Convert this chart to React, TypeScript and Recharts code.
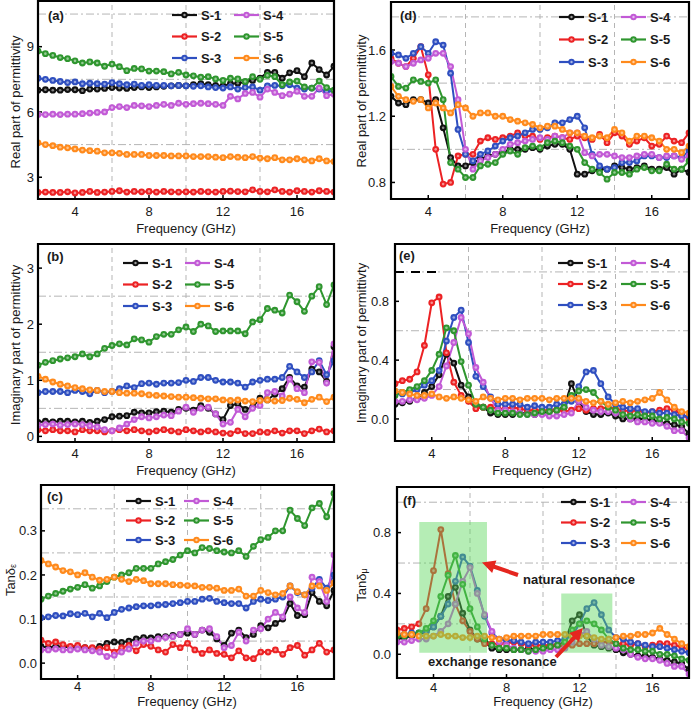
import React from "react";
import { LineChart, Line, XAxis, YAxis, ReferenceLine, ReferenceArea } from "recharts";

const FONT = '"Liberation Sans", Arial, Helvetica, sans-serif';

const FREQ = [2, 2.4, 2.8, 3.2, 3.6, 4, 4.4, 4.8, 5.2, 5.6, 6, 6.4, 6.8, 7.2, 7.6, 8, 8.4, 8.8, 9.2, 9.6, 10, 10.4, 10.8, 11.2, 11.6, 12, 12.4, 12.8, 13.2, 13.6, 14, 14.4, 14.8, 15.2, 15.6, 16, 16.4, 16.8, 17.2, 17.6, 18];
const SAMPLES = ["S-1", "S-2", "S-3", "S-4", "S-5", "S-6"];
const COLORS = ["#111111", "#ec2224", "#2f4fc0", "#c25ad6", "#2f962f", "#ff8a1c"];
const X_TICKS = [4, 8, 12, 16];
const X_GRID = [6, 10, 14];

// (a) real part of permittivity
const EPS_RE_S1 = [7.0, 7.02, 7.0, 7.0, 7.03, 7.02, 6.98, 7.05, 7.05, 7.08, 7.12, 7.1, 7.08, 7.12, 7.15, 7.12, 7.15, 7.18, 7.2, 7.22, 7.2, 7.25, 7.3, 7.25, 7.22, 7.2, 7.3, 7.32, 7.38, 7.45, 7.55, 7.82, 7.82, 7.55, 7.8, 7.9, 7.62, 8.25, 7.95, 7.7, 8.1];
const EPS_RE_S2 = [2.3, 2.32, 2.3, 2.3, 2.33, 2.28, 2.3, 2.35, 2.3, 2.32, 2.35, 2.38, 2.32, 2.35, 2.33, 2.35, 2.32, 2.35, 2.33, 2.32, 2.33, 2.32, 2.35, 2.33, 2.32, 2.35, 2.36, 2.34, 2.33, 2.42, 2.35, 2.33, 2.42, 2.35, 2.32, 2.38, 2.35, 2.32, 2.38, 2.35, 2.32];
const EPS_RE_S3 = [7.55, 7.5, 7.45, 7.4, 7.35, 7.38, 7.3, 7.32, 7.3, 7.28, 7.35, 7.3, 7.25, 7.28, 7.22, 7.25, 7.22, 7.22, 7.2, 7.22, 7.2, 7.18, 7.2, 7.15, 7.12, 7.1, 7.15, 7.05, 7.12, 7.15, 7.0, 7.2, 7.22, 7.2, 7.25, 7.1, 7.05, 7.1, 7.05, 6.95, 6.95];
const EPS_RE_S4 = [5.88, 5.88, 5.9, 5.88, 5.9, 5.9, 5.92, 5.95, 5.98, 6.0, 6.2, 6.25, 6.2, 6.3, 6.28, 6.25, 6.3, 6.35, 6.3, 6.4, 6.35, 6.38, 6.4, 6.38, 6.35, 6.3, 6.72, 6.6, 6.85, 6.9, 6.68, 7.05, 6.9, 6.75, 6.82, 6.95, 6.72, 6.72, 7.1, 6.75, 6.82];
const EPS_RE_S5 = [8.8, 8.68, 8.6, 8.5, 8.45, 8.35, 8.25, 8.3, 8.25, 8.1, 8.2, 8.08, 7.9, 8.0, 7.98, 7.88, 7.88, 7.85, 7.75, 7.82, 7.7, 7.66, 7.6, 7.62, 7.52, 7.45, 7.55, 7.52, 7.4, 7.62, 7.5, 7.68, 7.62, 7.25, 7.38, 7.42, 7.15, 7.1, 7.42, 7.12, 7.0];
const EPS_RE_S6 = [4.58, 4.5, 4.45, 4.38, 4.35, 4.3, 4.25, 4.22, 4.2, 4.12, 4.12, 4.1, 4.05, 4.05, 4.05, 4.0, 4.0, 4.0, 3.98, 3.98, 3.98, 3.95, 3.95, 3.95, 3.92, 3.9, 3.95, 3.92, 3.9, 3.95, 3.88, 3.85, 3.9, 3.8, 3.8, 3.85, 3.8, 3.75, 3.85, 3.75, 3.72];

// (b) imaginary part of permittivity
const EPS_IM_S1 = [0.25, 0.27, 0.26, 0.27, 0.27, 0.26, 0.27, 0.25, 0.27, 0.3, 0.35, 0.36, 0.37, 0.43, 0.42, 0.42, 0.44, 0.45, 0.43, 0.48, 0.5, 0.47, 0.55, 0.5, 0.4, 0.3, 0.55, 0.58, 0.48, 0.52, 0.68, 0.65, 0.75, 0.85, 1.05, 0.9, 0.88, 1.2, 1.15, 0.98, 1.6];
const EPS_IM_S2 = [0.12, 0.1, 0.12, 0.1, 0.1, 0.08, 0.12, 0.1, 0.1, 0.08, 0.1, 0.12, 0.1, 0.12, 0.1, 0.08, 0.1, 0.12, 0.1, 0.08, 0.12, 0.1, 0.08, 0.1, 0.08, 0.06, 0.05, 0.1, 0.05, 0.05, 0.08, 0.07, 0.1, 0.06, 0.1, 0.1, 0.05, 0.1, 0.13, 0.08, 0.1];
const EPS_IM_S3 = [0.78, 0.8, 0.8, 0.8, 0.78, 0.82, 0.8, 0.76, 0.82, 0.78, 0.8, 0.85, 0.9, 0.87, 0.94, 0.95, 0.93, 0.95, 0.95, 0.96, 1.0, 0.98, 1.05, 1.05, 1.0, 0.97, 0.97, 0.95, 0.88, 0.97, 1.0, 1.02, 1.02, 1.05, 1.25, 1.15, 1.05, 1.15, 1.35, 1.1, 1.35];
const EPS_IM_S4 = [0.2, 0.21, 0.22, 0.2, 0.21, 0.22, 0.21, 0.19, 0.17, 0.12, 0.1, 0.15, 0.22, 0.3, 0.35, 0.33, 0.35, 0.38, 0.37, 0.45, 0.52, 0.43, 0.5, 0.52, 0.4, 0.22, 0.25, 0.48, 0.35, 0.5, 0.55, 0.78, 0.8, 0.72, 1.02, 0.85, 0.78, 1.33, 1.32, 0.95, 1.65];
const EPS_IM_S5 = [1.27, 1.32, 1.35, 1.38, 1.4, 1.42, 1.47, 1.42, 1.47, 1.57, 1.62, 1.65, 1.63, 1.74, 1.72, 1.68, 1.78, 1.82, 1.82, 1.9, 1.95, 1.87, 2.0, 1.97, 1.87, 1.88, 1.88, 1.88, 1.83, 2.04, 2.08, 2.28, 2.25, 2.2, 2.52, 2.4, 2.23, 2.5, 2.67, 2.35, 2.7];
const EPS_IM_S6 = [1.07, 1.02, 0.97, 0.93, 0.9, 0.87, 0.85, 0.83, 0.82, 0.8, 0.8, 0.78, 0.77, 0.77, 0.76, 0.74, 0.73, 0.72, 0.71, 0.7, 0.7, 0.69, 0.68, 0.67, 0.67, 0.65, 0.64, 0.65, 0.63, 0.62, 0.64, 0.65, 0.63, 0.64, 0.68, 0.66, 0.6, 0.66, 0.7, 0.62, 0.7];

// (c) dielectric loss tangent
const TAN_E_S1 = [0.038, 0.035, 0.038, 0.037, 0.036, 0.037, 0.035, 0.033, 0.038, 0.045, 0.048, 0.047, 0.05, 0.055, 0.058, 0.057, 0.06, 0.06, 0.063, 0.065, 0.068, 0.065, 0.075, 0.07, 0.055, 0.04, 0.068, 0.075, 0.058, 0.065, 0.085, 0.08, 0.09, 0.1, 0.135, 0.108, 0.11, 0.16, 0.14, 0.13, 0.165];
const TAN_E_S2 = [0.052, 0.045, 0.048, 0.042, 0.038, 0.04, 0.035, 0.035, 0.032, 0.035, 0.025, 0.035, 0.04, 0.028, 0.042, 0.038, 0.03, 0.025, 0.042, 0.035, 0.045, 0.03, 0.022, 0.03, 0.022, 0.02, 0.012, 0.028, 0.012, 0.01, 0.025, 0.025, 0.03, 0.02, 0.035, 0.04, 0.018, 0.03, 0.045, 0.025, 0.03];
const TAN_E_S3 = [0.103, 0.105, 0.108, 0.107, 0.112, 0.11, 0.113, 0.105, 0.113, 0.103, 0.115, 0.122, 0.125, 0.128, 0.13, 0.13, 0.132, 0.133, 0.135, 0.137, 0.14, 0.14, 0.145, 0.147, 0.14, 0.137, 0.135, 0.135, 0.125, 0.14, 0.145, 0.142, 0.145, 0.15, 0.175, 0.16, 0.155, 0.17, 0.19, 0.17, 0.2];
const TAN_E_S4 = [0.03, 0.03, 0.032, 0.03, 0.03, 0.032, 0.03, 0.028, 0.025, 0.015, 0.018, 0.025, 0.032, 0.045, 0.05, 0.05, 0.055, 0.058, 0.06, 0.065, 0.078, 0.065, 0.075, 0.078, 0.06, 0.035, 0.04, 0.07, 0.05, 0.075, 0.078, 0.1, 0.115, 0.105, 0.15, 0.125, 0.115, 0.195, 0.185, 0.14, 0.245];
const TAN_E_S5 = [0.145, 0.152, 0.158, 0.163, 0.168, 0.172, 0.178, 0.17, 0.175, 0.185, 0.195, 0.2, 0.205, 0.215, 0.215, 0.215, 0.225, 0.23, 0.235, 0.245, 0.255, 0.25, 0.262, 0.26, 0.255, 0.252, 0.25, 0.255, 0.242, 0.265, 0.28, 0.285, 0.3, 0.3, 0.347, 0.328, 0.312, 0.352, 0.362, 0.332, 0.385];
const TAN_E_S6 = [0.233, 0.225, 0.218, 0.21, 0.207, 0.2, 0.205, 0.195, 0.188, 0.19, 0.195, 0.19, 0.185, 0.19, 0.187, 0.18, 0.18, 0.18, 0.178, 0.177, 0.176, 0.175, 0.172, 0.172, 0.17, 0.165, 0.165, 0.168, 0.152, 0.152, 0.165, 0.16, 0.155, 0.158, 0.175, 0.162, 0.155, 0.175, 0.175, 0.165, 0.182];

// (d) real part, permeability panel
const MU_RE_S1 = [1.32, 1.28, 1.27, 1.3, 1.3, 1.28, 1.3, 1.13, 0.95, 0.9, 0.9, 0.92, 0.94, 0.96, 0.97, 0.98, 1.0, 1.0, 1.0, 1.01, 1.0, 1.02, 1.03, 1.03, 1.0, 0.85, 0.85, 0.87, 0.88, 0.88, 0.9, 0.89, 0.88, 0.89, 0.9, 0.88, 0.88, 0.89, 0.85, 0.88, 0.86];
const MU_RE_S2 = [1.55, 1.52, 1.5, 1.55, 1.62, 1.45, 1.0, 0.79, 0.8, 0.96, 0.97, 0.97, 1.05, 1.07, 1.06, 1.07, 1.08, 1.1, 1.08, 1.08, 1.06, 1.07, 1.08, 1.07, 1.06, 1.08, 1.07, 1.06, 1.09, 1.04, 1.1, 1.08, 1.03, 1.05, 1.07, 1.02, 1.03, 1.08, 1.05, 1.04, 1.1];
const MU_RE_S3 = [1.58, 1.57, 1.55, 1.58, 1.62, 1.58, 1.65, 1.63, 1.46, 1.12, 0.97, 0.93, 0.97, 0.99, 1.02, 1.05, 1.07, 1.08, 1.1, 1.12, 1.12, 1.13, 1.16, 1.16, 1.18, 1.2, 1.13, 0.97, 0.9, 0.88, 0.89, 0.92, 0.92, 0.93, 0.96, 0.96, 0.95, 0.95, 0.96, 0.95, 0.99];
const MU_RE_S4 = [1.53, 1.52, 1.5, 1.52, 1.54, 1.55, 1.58, 1.58, 1.5, 1.3, 1.0, 0.88, 0.93, 0.95, 0.97, 1.0, 1.03, 1.04, 1.05, 1.06, 1.07, 1.06, 1.08, 1.07, 1.1, 1.1, 0.98, 0.96, 0.97, 0.97, 0.96, 0.95, 0.95, 0.96, 0.97, 0.97, 0.95, 0.96, 0.96, 0.94, 0.96];
const MU_RE_S5 = [1.44, 1.38, 1.37, 1.42, 1.41, 1.4, 1.42, 1.3, 0.92, 0.88, 0.83, 0.83, 0.9, 0.91, 0.92, 0.97, 0.99, 0.97, 1.01, 1.02, 1.01, 1.04, 1.05, 1.04, 1.02, 1.0, 0.92, 0.88, 0.86, 0.82, 0.86, 0.86, 0.85, 0.88, 0.89, 0.87, 0.87, 0.91, 0.88, 0.88, 0.93];
const MU_RE_S6 = [1.38, 1.32, 1.3, 1.29, 1.3, 1.25, 1.28, 1.25, 1.22, 1.27, 1.25, 1.2, 1.22, 1.22, 1.2, 1.2, 1.18, 1.17, 1.16, 1.15, 1.13, 1.14, 1.14, 1.12, 1.1, 1.1, 1.08, 1.07, 1.08, 1.07, 1.12, 1.1, 1.05, 1.08, 1.08, 1.07, 1.05, 1.0, 1.0, 0.98, 1.02];

// (e) imaginary part, permeability panel
const MU_IM_S1 = [0.1, 0.11, 0.12, 0.14, 0.18, 0.22, 0.3, 0.44, 0.38, 0.23, 0.15, 0.1, 0.08, 0.04, 0.03, 0.03, 0.03, 0.04, 0.04, 0.03, 0.04, 0.05, 0.06, 0.08, 0.24, 0.12, 0.05, 0.03, 0.03, 0.04, 0.02, 0.0, 0.0, 0.0, 0.0, -0.01, -0.02, -0.03, -0.04, -0.05, -0.1];
const MU_IM_S2 = [0.24, 0.26, 0.27, 0.32, 0.5, 0.79, 0.83, 0.45, 0.25, 0.16, 0.12, 0.07, 0.08, 0.08, 0.07, 0.07, 0.08, 0.07, 0.06, 0.06, 0.06, 0.06, 0.06, 0.05, 0.06, 0.07, 0.06, 0.07, 0.07, 0.08, 0.07, 0.06, 0.05, 0.06, 0.04, 0.05, 0.06, 0.07, 0.06, 0.03, 0.0];
const MU_IM_S3 = [0.17, 0.17, 0.18, 0.2, 0.23, 0.26, 0.33, 0.53, 0.69, 0.74, 0.52, 0.29, 0.22, 0.15, 0.1, 0.1, 0.1, 0.1, 0.08, 0.09, 0.08, 0.08, 0.1, 0.1, 0.12, 0.22, 0.32, 0.33, 0.24, 0.15, 0.1, 0.08, 0.07, 0.07, 0.05, 0.05, 0.04, 0.04, 0.03, 0.02, 0.02];
const MU_IM_S4 = [0.12, 0.12, 0.13, 0.13, 0.14, 0.16, 0.22, 0.36, 0.52, 0.69, 0.58, 0.35, 0.25, 0.14, 0.06, 0.06, 0.05, 0.04, 0.03, 0.03, 0.03, 0.02, 0.02, 0.03, 0.04, 0.12, 0.08, 0.06, 0.05, 0.05, 0.04, 0.03, 0.0, -0.02, -0.02, -0.03, -0.03, -0.05, -0.08, -0.08, -0.13];
const MU_IM_S5 = [0.16, 0.18, 0.2, 0.22, 0.26, 0.33, 0.44, 0.62, 0.6, 0.39, 0.23, 0.1, 0.08, 0.06, 0.04, 0.04, 0.04, 0.03, 0.03, 0.04, 0.05, 0.05, 0.06, 0.08, 0.16, 0.19, 0.2, 0.18, 0.12, 0.08, 0.06, 0.03, 0.02, 0.03, 0.02, 0.02, 0.0, 0.01, 0.0, -0.02, -0.03];
const MU_IM_S6 = [0.19, 0.18, 0.17, 0.16, 0.16, 0.17, 0.15, 0.14, 0.15, 0.14, 0.13, 0.12, 0.15, 0.14, 0.13, 0.14, 0.14, 0.13, 0.14, 0.14, 0.14, 0.13, 0.14, 0.14, 0.14, 0.14, 0.12, 0.11, 0.12, 0.1, 0.11, 0.12, 0.11, 0.12, 0.13, 0.14, 0.18, 0.13, 0.08, 0.05, 0.04];

// (f) magnetic loss tangent
const TAN_M_S1 = [0.1, 0.11, 0.12, 0.13, 0.15, 0.18, 0.25, 0.38, 0.44, 0.27, 0.16, 0.1, 0.08, 0.04, 0.03, 0.03, 0.03, 0.03, 0.04, 0.03, 0.04, 0.05, 0.06, 0.08, 0.22, 0.26, 0.12, 0.06, 0.05, 0.04, 0.03, 0.01, 0.0, -0.01, -0.01, -0.02, -0.03, -0.04, -0.05, -0.06, -0.1];
const TAN_M_S2 = [0.16, 0.17, 0.18, 0.2, 0.3, 0.55, 0.82, 0.53, 0.33, 0.22, 0.15, 0.1, 0.07, 0.07, 0.07, 0.07, 0.08, 0.07, 0.06, 0.06, 0.06, 0.06, 0.06, 0.05, 0.06, 0.07, 0.07, 0.07, 0.08, 0.08, 0.07, 0.07, 0.06, 0.07, 0.05, 0.06, 0.07, 0.07, 0.06, 0.05, 0.03];
const TAN_M_S3 = [0.13, 0.13, 0.14, 0.14, 0.15, 0.18, 0.25, 0.33, 0.48, 0.64, 0.58, 0.42, 0.25, 0.14, 0.1, 0.09, 0.09, 0.08, 0.07, 0.08, 0.08, 0.08, 0.09, 0.1, 0.12, 0.2, 0.3, 0.34, 0.26, 0.16, 0.11, 0.1, 0.08, 0.07, 0.06, 0.05, 0.05, 0.04, 0.03, 0.02, 0.01];
const TAN_M_S4 = [0.08, 0.08, 0.09, 0.1, 0.1, 0.12, 0.15, 0.2, 0.33, 0.48, 0.57, 0.4, 0.26, 0.15, 0.08, 0.06, 0.04, 0.03, 0.02, 0.02, 0.02, 0.03, 0.03, 0.04, 0.08, 0.13, 0.15, 0.1, 0.06, 0.05, 0.04, 0.03, 0.0, -0.02, -0.03, -0.03, -0.04, -0.06, -0.08, -0.08, -0.13];
const TAN_M_S5 = [0.12, 0.12, 0.13, 0.14, 0.17, 0.22, 0.38, 0.52, 0.65, 0.46, 0.3, 0.18, 0.1, 0.06, 0.04, 0.04, 0.03, 0.03, 0.02, 0.03, 0.04, 0.05, 0.06, 0.08, 0.16, 0.2, 0.22, 0.2, 0.16, 0.1, 0.07, 0.04, 0.03, 0.03, 0.02, 0.02, 0.0, 0.0, -0.01, -0.03, -0.04];
const TAN_M_S6 = [0.14, 0.13, 0.13, 0.12, 0.12, 0.12, 0.13, 0.12, 0.12, 0.11, 0.11, 0.12, 0.12, 0.11, 0.1, 0.11, 0.12, 0.12, 0.12, 0.12, 0.13, 0.13, 0.13, 0.13, 0.12, 0.12, 0.12, 0.11, 0.1, 0.1, 0.11, 0.12, 0.12, 0.13, 0.13, 0.14, 0.17, 0.13, 0.1, 0.07, 0.05];

type Box = [number, number, number, number];

interface PanelSpec {
  plot: Box;
  series: number[][];
  yDomain: [number, number];
  yTicks: number[];
  yGrid: number[];
  digits: number;
  xTickMargin: number;
  yTickMargin: number;
  areas?: { x1: number; x2: number; y1: number; y2: number }[];
  blackDash?: boolean;
}

const PANELS: PanelSpec[] = [
  { plot: [38, 1, 334, 199], series: [EPS_RE_S1, EPS_RE_S2, EPS_RE_S3, EPS_RE_S4, EPS_RE_S5, EPS_RE_S6], yDomain: [2, 11.1], yTicks: [3, 6, 9], yGrid: [4.5, 7.5, 10.5], digits: 0, xTickMargin: 12, yTickMargin: 8 },
  { plot: [38, 244, 334, 442], series: [EPS_IM_S1, EPS_IM_S2, EPS_IM_S3, EPS_IM_S4, EPS_IM_S5, EPS_IM_S6], yDomain: [-0.1, 3.43], yTicks: [0, 1, 2, 3], yGrid: [0.5, 1.5, 2.5], digits: 0, xTickMargin: 11, yTickMargin: 8 },
  { plot: [41, 485, 334, 679], series: [TAN_E_S1, TAN_E_S2, TAN_E_S3, TAN_E_S4, TAN_E_S5, TAN_E_S6], yDomain: [-0.036, 0.404], yTicks: [0, 0.1, 0.2, 0.3], yGrid: [0.05, 0.15, 0.25, 0.35], digits: 1, xTickMargin: 6.5, yTickMargin: 8 },
  { plot: [391, 2, 689, 199], series: [MU_RE_S1, MU_RE_S2, MU_RE_S3, MU_RE_S4, MU_RE_S5, MU_RE_S6], yDomain: [0.7, 1.89], yTicks: [0.8, 1.2, 1.6], yGrid: [1.0, 1.4, 1.8], digits: 1, xTickMargin: 11.5, yTickMargin: 9 },
  { plot: [395, 244, 689, 441], series: [MU_IM_S1, MU_IM_S2, MU_IM_S3, MU_IM_S4, MU_IM_S5, MU_IM_S6], yDomain: [-0.15, 1.19], yTicks: [0, 0.4, 0.8], yGrid: [0.2, 0.6, 1.0], digits: 1, xTickMargin: 12, yTickMargin: 10, blackDash: true },
  {
    plot: [397, 487, 689, 678], series: [TAN_M_S1, TAN_M_S2, TAN_M_S3, TAN_M_S4, TAN_M_S5, TAN_M_S6], yDomain: [-0.156, 1.1], yTicks: [0, 0.4, 0.8], yGrid: [0.2, 0.6, 1.0], digits: 1, xTickMargin: 8.5, yTickMargin: 10,
    areas: [
      { x1: 3.22, x2: 6.93, y1: 0.01, y2: 0.87 },
      { x1: 11.0, x2: 13.8, y1: 0.01, y2: 0.4 },
    ],
  },
];

// titles, legends and panel tags (page pixels)
const Y_TITLES = [
  { x: 15, y: 102, text: "Real part of permittivity" },
  { x: 15, y: 345, text: "Imaginary part of permittivty" },
  { x: 361, y: 101, text: "Real part of permittivity" },
  { x: 361, y: 343, text: "Imaginary part of permittivty" },
];
const X_TITLES = [
  { x: 186, y: 228 }, { x: 186, y: 470 }, { x: 187, y: 701 },
  { x: 540, y: 228 }, { x: 542, y: 470 }, { x: 543, y: 701 },
];
const TAGS = [
  { x: 48, y: 15, t: "(a)" }, { x: 47, y: 256, t: "(b)" }, { x: 47, y: 496, t: "(c)" },
  { x: 400, y: 15, t: "(d)" }, { x: 399, y: 255, t: "(e)" }, { x: 403, y: 500, t: "(f)" },
];
const LEGENDS = [
  { x: 172, y: 15, dy: 21.5, dx: 62 },
  { x: 123, y: 263, dy: 21.5, dx: 62 },
  { x: 126, y: 501, dy: 19.5, dx: 58 },
  { x: 559, y: 17, dy: 22.5, dx: 62 },
  { x: 558, y: 263, dy: 21, dx: 63 },
  { x: 561, y: 502, dy: 20.5, dx: 60 },
];

function makeDot(color: string) {
  return (p: any) => {
    if (p.cx == null || p.cy == null) return <g key={`n${p.index}`} />;
    return (
      <g key={`d${p.index}`}>
        <circle cx={p.cx} cy={p.cy} r={3.4} fill={color} />
        <circle cx={p.cx} cy={p.cy} r={1.3} fill="#ffffff" fillOpacity={0.5} />
      </g>
    );
  };
}

function Panel({ spec }: { spec: PanelSpec }) {
  const [x0, y0, x1, y1] = spec.plot;
  const padL = 46, padT = 8, padR = 8, padB = 30;
  const rows = FREQ.map((f, i) => {
    const r: Record<string, number> = { f };
    spec.series.forEach((s, k) => (r[`s${k + 1}`] = s[i]));
    return r;
  });
  const tickStyle = { fontSize: 13, fill: "#1a1a1a", fontFamily: FONT };
  return (
    <div style={{ position: "absolute", left: x0 - padL, top: y0 - padT }}>
      <LineChart
        width={x1 - x0 + padL + padR}
        height={y1 - y0 + padT + padB}
        data={rows}
        margin={{ top: padT, right: padR, bottom: 0, left: 0 }}
      >
        {X_GRID.map((v) => (
          <ReferenceLine key={`gx${v}`} x={v} stroke="#b5b5b5" strokeDasharray="5 4" strokeWidth={1} />
        ))}
        {spec.yGrid.map((v) => (
          <ReferenceLine key={`gy${v}`} y={v} stroke="#b5b5b5" strokeDasharray="8 3 2 3" strokeWidth={1} />
        ))}
        {spec.blackDash && (
          <ReferenceLine
            segment={[{ x: 2, y: 1.0 }, { x: 4.3, y: 1.0 }]}
            stroke="#000"
            strokeWidth={2}
            strokeDasharray="9 7"
          />
        )}
        <XAxis
          type="number"
          dataKey="f"
          domain={[2, 18]}
          ticks={X_TICKS}
          interval={0}
          allowDataOverflow
          height={padB}
          axisLine={false}
          tickLine={{ stroke: "#000", strokeWidth: 1.5 }}
          tickSize={-4}
          tickMargin={spec.xTickMargin}
          tick={tickStyle}
        />
        <YAxis
          type="number"
          domain={spec.yDomain}
          ticks={spec.yTicks}
          interval={0}
          allowDataOverflow
          width={padL}
          axisLine={false}
          tickLine={{ stroke: "#000", strokeWidth: 1.5 }}
          tickSize={-4}
          tickMargin={spec.yTickMargin}
          tick={tickStyle}
          tickFormatter={(v: number) => v.toFixed(spec.digits)}
        />
        {spec.series.map((_, k) => (
          <Line
            key={`s${k + 1}`}
            type="linear"
            dataKey={`s${k + 1}`}
            stroke={COLORS[k]}
            strokeWidth={2}
            dot={makeDot(COLORS[k])}
            activeDot={false}
            isAnimationActive={false}
          />
        ))}
        {(spec.areas || []).map((a, i) => (
          <ReferenceArea
            key={`ar${i}`}
            x1={a.x1}
            x2={a.x2}
            y1={a.y1}
            y2={a.y2}
            fill="#5ad85a"
            fillOpacity={0.45}
            stroke="none"
            ifOverflow="visible"
            zIndex={700}
          />
        ))}
        <ReferenceArea
          x1={2}
          x2={18}
          y1={spec.yDomain[0]}
          y2={spec.yDomain[1]}
          fill="none"
          fillOpacity={0}
          stroke="#000"
          strokeWidth={2.2}
          ifOverflow="visible"
          zIndex={800}
        />
      </LineChart>
    </div>
  );
}

function Arrow({ from, to }: { from: [number, number]; to: [number, number] }) {
  const [ax, ay] = from;
  const [bx, by] = to;
  const len = Math.hypot(bx - ax, by - ay);
  const ux = (bx - ax) / len, uy = (by - ay) / len;
  const nx = -uy, ny = ux;
  const head = 13, hw = 6.5, sw = 2;
  const hx = bx - ux * head, hy = by - uy * head;
  const pts = [
    [ax + nx * sw, ay + ny * sw], [hx + nx * sw, hy + ny * sw], [hx + nx * hw, hy + ny * hw],
    [bx, by],
    [hx - nx * hw, hy - ny * hw], [hx - nx * sw, hy - ny * sw], [ax - nx * sw, ay - ny * sw],
  ];
  return <polygon points={pts.map((p) => p.join(",")).join(" ")} fill="#e5261f" />;
}

function Overlay() {
  return (
    <svg width={692} height={711} style={{ position: "absolute", left: 0, top: 0, pointerEvents: "none" }}>
      <g fontFamily={FONT} fill="#1a1a1a">
        {Y_TITLES.map((t, i) => (
          <text key={`yt${i}`} x={t.x} y={t.y} fontSize={13} textAnchor="middle" dominantBaseline="central" transform={`rotate(-90 ${t.x} ${t.y})`}>
            {t.text}
          </text>
        ))}
        <text x={10} y={580} fontSize={13} textAnchor="middle" dominantBaseline="central" transform="rotate(-90 10 580)">
          Tanδ<tspan fontSize={9} dy={3}>ε</tspan>
        </text>
        <text x={361} y={585} fontSize={13} textAnchor="middle" dominantBaseline="central" transform="rotate(-90 361 585)">
          Tanδ<tspan fontSize={9} dy={3}>μ</tspan>
        </text>
        {X_TITLES.map((t, i) => (
          <text key={`xt${i}`} x={t.x} y={t.y + 4.5} fontSize={13} textAnchor="middle">
            Frequency (GHz)
          </text>
        ))}
        {TAGS.map((t) => (
          <text key={t.t} x={t.x} y={t.y + 4.5} fontSize={13} fontWeight="bold">
            {t.t}
          </text>
        ))}
        {LEGENDS.map((L, li) =>
          SAMPLES.map((name, k) => {
            const col = k < 3 ? 0 : 1;
            const row = k % 3;
            const x = L.x + col * L.dx;
            const y = L.y + row * L.dy;
            return (
              <g key={`lg${li}-${k}`}>
                <line x1={x} y1={y} x2={x + 25} y2={y} stroke={COLORS[k]} strokeWidth={2.2} />
                <circle cx={x + 12.5} cy={y} r={3.2} fill={COLORS[k]} />
                <circle cx={x + 12.5} cy={y} r={1.2} fill="#fff" fillOpacity={0.6} />
                <text x={x + 29} y={y + 4.6} fontSize={13} fontWeight="bold">
                  {name}
                </text>
              </g>
            );
          })
        )}
        <text x={523} y={583.5} fontSize={13} fontWeight="bold">natural resonance</text>
        <text x={428} y={666} fontSize={13} fontWeight="bold">exchange resonance</text>
      </g>
      <Arrow from={[518, 575]} to={[482, 562.5]} />
      <Arrow from={[556, 657]} to={[583, 628]} />
    </svg>
  );
}

export default function App() {
  return (
    <div
      style={{
        position: "absolute",
        left: 0,
        top: 0,
        width: 692,
        height: 711,
        background: "#fff",
        overflow: "hidden",
        fontFamily: FONT,
      }}
    >
      {PANELS.map((p, i) => (
        <Panel key={i} spec={p} />
      ))}
      <Overlay />
    </div>
  );
}
